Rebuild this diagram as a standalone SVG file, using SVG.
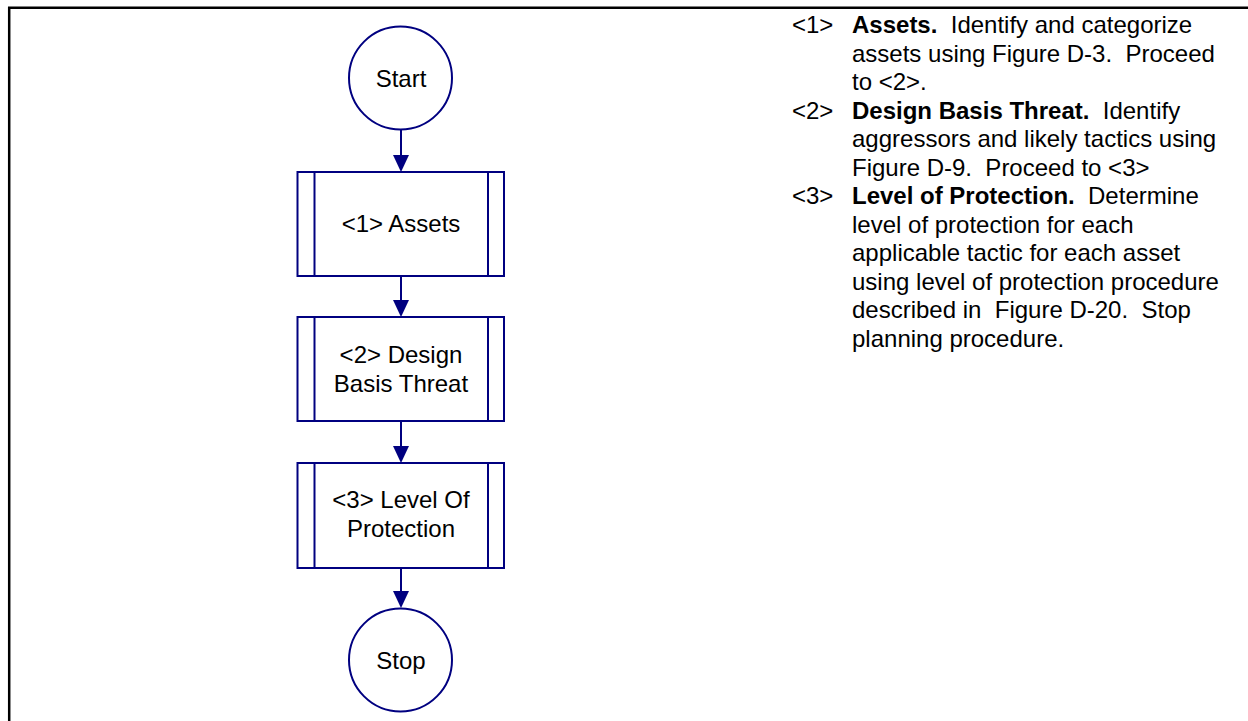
<svg xmlns="http://www.w3.org/2000/svg" width="1248" height="721" viewBox="0 0 1248 721">
<style>
.frame{stroke:#000;stroke-width:2.5;fill:none}
.shape{fill:#fff;stroke:#000080;stroke-width:2}
.conn{stroke:#000080;stroke-width:2;fill:none}
.head{fill:#000080}
.nt{font-family:"Liberation Sans",Arial,sans-serif;font-size:24px;fill:#000;text-anchor:middle}
.rt{font-family:"Liberation Sans",Arial,sans-serif;font-size:24px;fill:#000;white-space:pre}
.b{font-weight:bold}
</style>
<rect width="1248" height="721" fill="#fff"/>
<path class="frame" d="M9.2,721 V7.8 H1248"/>
<g id="connectors">
<line class="conn" x1="401" y1="130" x2="401" y2="158"/>
<polygon class="head" points="393,155 409,155 401,172"/>
<line class="conn" x1="401" y1="276" x2="401" y2="302"/>
<polygon class="head" points="393,300 409,300 401,317"/>
<line class="conn" x1="401" y1="421" x2="401" y2="448"/>
<polygon class="head" points="393,446 409,446 401,463"/>
<line class="conn" x1="401" y1="568" x2="401" y2="593"/>
<polygon class="head" points="393,591 409,591 401,608"/>
</g>
<g id="start">
<circle class="shape" cx="400.5" cy="78" r="51.5"/>
<text class="nt" x="401" y="87">Start</text>
</g>
<g id="assets">
<rect class="shape" x="297.5" y="172" width="206.5" height="104"/>
<line class="conn" x1="314.5" y1="172" x2="314.5" y2="276"/>
<line class="conn" x1="488" y1="172" x2="488" y2="276"/>
<text class="nt" x="401" y="232">&lt;1&gt; Assets</text>
</g>
<g id="dbt">
<rect class="shape" x="297.5" y="317" width="206.5" height="104"/>
<line class="conn" x1="314.5" y1="317" x2="314.5" y2="421"/>
<line class="conn" x1="488" y1="317" x2="488" y2="421"/>
<text class="nt" x="401" y="363">&lt;2&gt; Design</text>
<text class="nt" x="401" y="392">Basis Threat</text>
</g>
<g id="lop">
<rect class="shape" x="297.5" y="463" width="206.5" height="105"/>
<line class="conn" x1="314.5" y1="463" x2="314.5" y2="568"/>
<line class="conn" x1="488" y1="463" x2="488" y2="568"/>
<text class="nt" x="401" y="508">&lt;3&gt; Level Of</text>
<text class="nt" x="401" y="537">Protection</text>
</g>
<g id="stop">
<circle class="shape" cx="400.5" cy="660" r="51.5"/>
<text class="nt" x="401" y="669">Stop</text>
</g>
<g id="notes">
<text class="rt" x="792" y="33">&lt;1&gt;</text>
<text class="rt" x="852" y="33"><tspan class="b">Assets.</tspan>  Identify and categorize</text>
<text class="rt" x="852" y="61.5">assets using Figure D-3.  Proceed</text>
<text class="rt" x="852" y="90">to &lt;2&gt;.</text>
<text class="rt" x="792" y="118.5">&lt;2&gt;</text>
<text class="rt" x="852" y="118.5"><tspan class="b">Design Basis Threat.</tspan>  Identify</text>
<text class="rt" x="852" y="147">aggressors and likely tactics using</text>
<text class="rt" x="852" y="175.5">Figure D-9.  Proceed to &lt;3&gt;</text>
<text class="rt" x="792" y="204">&lt;3&gt;</text>
<text class="rt" x="852" y="204"><tspan class="b">Level of Protection.</tspan>  Determine</text>
<text class="rt" x="852" y="232.5">level of protection for each</text>
<text class="rt" x="852" y="261">applicable tactic for each asset</text>
<text class="rt" x="852" y="289.5">using level of protection procedure</text>
<text class="rt" x="852" y="318">described in  Figure D-20.  Stop</text>
<text class="rt" x="852" y="346.5">planning procedure.</text>
</g>
</svg>
